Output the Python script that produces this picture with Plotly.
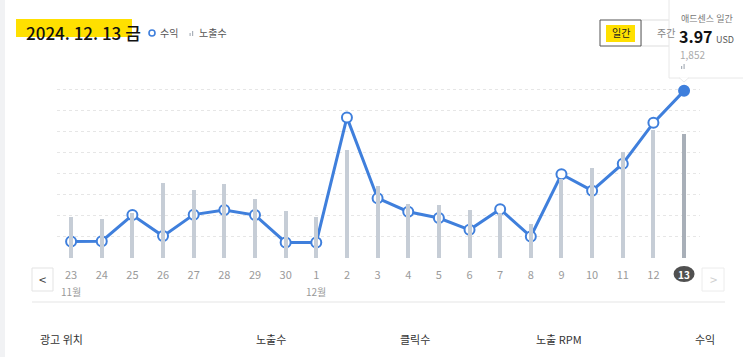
import plotly.graph_objects as go

days = ["23", "24", "25", "26", "27", "28", "29", "30", "1", "2", "3", "4", "5",
        "6", "7", "8", "9", "10", "11", "12", "13"]
revenue = [0.39, 0.40, 1.02, 0.52, 1.03, 1.14, 1.02, 0.37, 0.37, 3.34, 1.42, 1.10,
           0.95, 0.67, 1.16, 0.51, 1.99, 1.60, 2.24, 3.21, 3.97]
impressions = [614, 580, 674, 1127, 1018, 1108, 888, 699, 609, 1612, 1078, 804, 793,
               723, 674, 514, 1183, 1352, 1591, 1916, 1852]
month_labels = [("11월", 0), ("12월", 8)]
table_headers = [("광고 위치", 38, "left"), ("노출수", 271, "center"), ("클릭수", 415, "center"),
                 ("노출 RPM", 559, "center"), ("수익", 717, "right")]

W, H = 743, 357
L, R, T, B = 57, 700, 80, 258
FONT = "Noto Sans CJK KR"
BLUE = "#3f7fdc"

def px(x):
    return (x - L) / (R - L)

def py(y):
    return (B - y) / (B - T)

n = len(days)
xs = list(range(n))
bar_colors = ["#c6cdd6"] * (n - 1) + ["#a8afb8"]
marker_fill = ["white"] * (n - 1) + [BLUE]

fig = go.Figure()
fig.add_trace(go.Bar(x=xs, y=impressions, yaxis="y2", width=0.13,
                     marker=dict(color=bar_colors, line=dict(width=0)), showlegend=False))
fig.add_trace(go.Scatter(x=xs, y=revenue, mode="lines+markers",
                         line=dict(color=BLUE, width=3),
                         marker=dict(size=10, color=marker_fill, line=dict(color=BLUE, width=2)),
                         showlegend=False))

ticktext = days[:-1] + [""]
fig.update_layout(
    width=W, height=H,
    margin=dict(l=L, r=W - R, t=T, b=H - B),
    paper_bgcolor="white", plot_bgcolor="white",
    font=dict(family=FONT, color="#333"),
    xaxis=dict(range=[-0.46, 20.52], tickmode="array", tickvals=xs, ticktext=ticktext,
               showgrid=False, zeroline=False, showline=False,
               tickfont=dict(size=11, color="#9a9a9a"), ticks="", ticklabelstandoff=9),
    yaxis=dict(range=[0, 178 / 42.1], tickvals=[0.5, 1, 1.5, 2, 2.5, 3, 3.5, 4],
               showticklabels=False, showgrid=True, gridcolor="#e6e6e6", griddash="3px,3px",
               gridwidth=1, zeroline=False, showline=False),
    yaxis2=dict(range=[0, 178 / 0.0668], overlaying="y", showticklabels=False,
                showgrid=False, zeroline=False, showline=False),
    bargap=0,
)

shapes = []
annotations = []

# left page stripe
shapes.append(dict(type="rect", xref="paper", yref="paper", x0=px(0), x1=px(5), y0=py(H), y1=py(0),
                   fillcolor="#f1f2f4", line=dict(width=0), layer="below"))
# title highlight
shapes.append(dict(type="rect", xref="paper", yref="paper", x0=px(16), x1=px(132), y0=py(37), y1=py(19),
                   fillcolor="#ffe000", line=dict(width=0), layer="below"))
annotations.append(dict(text="2024. 12. 13 금", xref="paper", yref="paper", x=px(24), y=py(33),
                        xanchor="left", yanchor="middle", showarrow=False,
                        font=dict(size=17, color="#111", family=FONT, weight=500)))
# legend
shapes.append(dict(type="circle", xref="paper", yref="paper", x0=px(149), x1=px(155), y0=py(36), y1=py(30),
                   fillcolor="white", line=dict(color=BLUE, width=1.6)))
annotations.append(dict(text="수익", xref="paper", yref="paper", x=px(158), y=py(33), xanchor="left",
                        yanchor="middle", showarrow=False, font=dict(size=10, color="#555")))
for bx, bh in [(189.5, 3), (192, 5)]:
    shapes.append(dict(type="rect", xref="paper", yref="paper", x0=px(bx), x1=px(bx + 1.2),
                       y0=py(36), y1=py(36 - bh), fillcolor="#aab1ba", line=dict(width=0)))
annotations.append(dict(text="노출수", xref="paper", yref="paper", x=px(197), y=py(33), xanchor="left",
                        yanchor="middle", showarrow=False, font=dict(size=10, color="#555")))

# period buttons
shapes.append(dict(type="rect", xref="paper", yref="paper", x0=px(641), x1=px(700), y0=py(46), y1=py(20),
                   fillcolor="white", line=dict(color="#dddddd", width=1)))
shapes.append(dict(type="rect", xref="paper", yref="paper", x0=px(600), x1=px(641), y0=py(46), y1=py(20),
                   fillcolor="white", line=dict(color="#555555", width=1)))
shapes.append(dict(type="rect", xref="paper", yref="paper", x0=px(606), x1=px(635), y0=py(42), y1=py(25),
                   fillcolor="#ffe000", line=dict(width=0)))
annotations.append(dict(text="일간", xref="paper", yref="paper", x=px(621), y=py(33), xanchor="center",
                        yanchor="middle", showarrow=False, font=dict(size=10, color="#222")))
annotations.append(dict(text="주간", xref="paper", yref="paper", x=px(666), y=py(33), xanchor="center",
                        yanchor="middle", showarrow=False, font=dict(size=10, color="#888")))

# tooltip
shapes.append(dict(type="rect", xref="paper", yref="paper", x0=px(669), x1=px(746), y0=py(78), y1=py(-3),
                   fillcolor="white", line=dict(color="#e8e8e8", width=1)))
shapes.append(dict(type="path", xref="paper", yref="paper",
                   path=f"M {px(679)} {py(77.5)} L {px(684)} {py(82)} L {px(689)} {py(77.5)} Z",
                   fillcolor="white", line=dict(color="#e8e8e8", width=1)))
shapes.append(dict(type="rect", xref="paper", yref="paper", x0=px(679.5), x1=px(688.5), y0=py(77.8), y1=py(76),
                   fillcolor="white", line=dict(width=0)))
annotations.append(dict(text="애드센스 일간", xref="paper", yref="paper", x=px(679), y=py(18), xanchor="left",
                        yanchor="middle", showarrow=False, font=dict(size=9, color="#777")))
annotations.append(dict(text="<b>3.97</b>", xref="paper", yref="paper", x=px(678), y=py(36), xanchor="left",
                        yanchor="middle", showarrow=False, borderpad=0, font=dict(size=16, color="#111")))
annotations.append(dict(text="USD", xref="paper", yref="paper", x=px(715), y=py(39), xanchor="left",
                        yanchor="middle", showarrow=False, borderpad=0, font=dict(size=9, color="#555")))
annotations.append(dict(text="1,852", xref="paper", yref="paper", x=px(679), y=py(54), xanchor="left",
                        yanchor="middle", showarrow=False, borderpad=0, font=dict(size=10, color="#aaa")))
for bx, bh in [(681, 3), (683.5, 5)]:
    shapes.append(dict(type="rect", xref="paper", yref="paper", x0=px(bx), x1=px(bx + 1.2),
                       y0=py(69), y1=py(69 - bh), fillcolor="#aab1ba", line=dict(width=0)))

# selected day pill
shapes.append(dict(type="circle", xref="x", yref="paper", xsizemode="pixel", ysizemode="pixel",
                   xanchor=n - 1, yanchor=py(274), x0=-10.5, x1=10.5, y0=-8, y1=8,
                   fillcolor="#505050", line=dict(width=0)))
annotations.append(dict(text="<b>13</b>", xref="x", yref="paper", x=n - 1, y=py(274), xanchor="center",
                        yanchor="middle", showarrow=False, font=dict(size=10, color="white")))

# month labels
for lab, idx in month_labels:
    annotations.append(dict(text=lab, xref="x", yref="paper", x=idx, y=py(291), xanchor="center",
                            yanchor="middle", showarrow=False, font=dict(size=10, color="#999")))

# nav arrows
shapes.append(dict(type="rect", xref="paper", yref="paper", x0=px(32), x1=px(53), y0=py(291), y1=py(268),
                   fillcolor="white", line=dict(color="#e3e3e3", width=1)))
annotations.append(dict(text="<", xref="paper", yref="paper", x=px(42.5), y=py(279), xanchor="center",
                        yanchor="middle", showarrow=False, font=dict(size=13, color="#444")))
shapes.append(dict(type="rect", xref="paper", yref="paper", x0=px(702), x1=px(724), y0=py(291), y1=py(268),
                   fillcolor="white", line=dict(color="#ececec", width=1)))
annotations.append(dict(text=">", xref="paper", yref="paper", x=px(713), y=py(279), xanchor="center",
                        yanchor="middle", showarrow=False, font=dict(size=13, color="#d0d0d0")))

# separator
shapes.append(dict(type="line", xref="paper", yref="paper", x0=px(32), x1=px(725), y0=py(302), y1=py(302),
                   line=dict(color="#eeeeee", width=1.5)))

# table header
for txt, x, anc in table_headers:
    annotations.append(dict(text=txt, xref="paper", yref="paper", x=px(x), y=py(339), xanchor=anc,
                            yanchor="middle", showarrow=False, font=dict(size=11, color="#333")))

fig.update_layout(shapes=shapes, annotations=annotations)
fig.write_html("out.html", config={"displayModeBar": False},
               post_script="document.body.style.margin='0';document.body.style.overflow='hidden';")
